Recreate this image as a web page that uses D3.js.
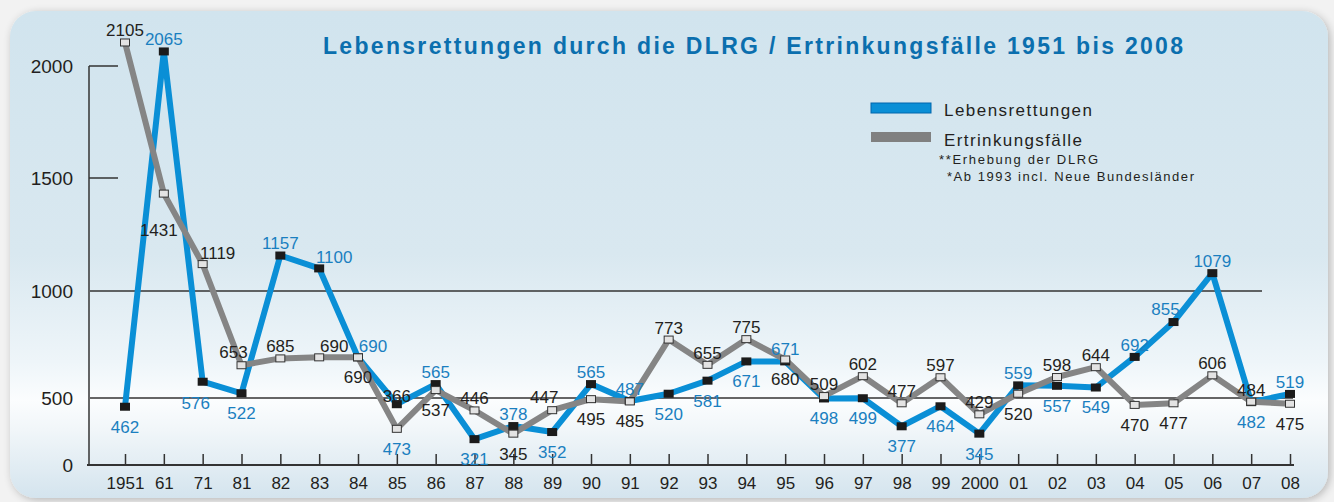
<!DOCTYPE html>
<html><head><meta charset="utf-8">
<script src="https://cdn.jsdelivr.net/npm/d3@7"></script>
<style>
html,body{margin:0;padding:0;background:#f1f1f1;}
svg{display:block;font-family:"Liberation Sans",Arial,Helvetica,sans-serif;}
</style>
</head><body>
<svg id="c" width="1334" height="502"></svg>
<script>
// ---------- DATA ----------
const categories = ["1951","61","71","81","82","83","84","85","86","87","88","89","90","91","92","93","94","95","96","97","98","99","2000","01","02","03","04","05","06","07","08"];
const lebensrettungen = [462,2065,576,522,1157,1100,690,473,565,321,378,352,565,487,520,581,671,671,498,499,377,464,345,559,557,549,692,855,1079,482,519];
const ertrinkungsfaelle = [2105,1431,1119,653,685,690,690,366,537,446,345,447,495,485,773,655,775,680,509,602,477,597,429,520,598,644,470,477,606,484,475];
const yTickValues = [0,500,1000,1500,2000];
const seriesNames = ["Lebensrettungen","Ertrinkungsfälle"];
const footnotes = ["**Erhebung der DLRG","*Ab 1993 incl. Neue Bundesländer"];
const titleText = "Lebensrettungen durch die DLRG / Ertrinkungsfälle 1951 bis 2008";
// label placement codes (t = top, b = bottom, tl/tr/bl = diagonal, tf/bf/bff = farther away)
const lebensLabelPos = ["b","t","bl","b","t","tr","tr","bff","t","b","t","b","t","t","b","b","b","t","b","b","b","b","b","t","b","b","t","tl","t","b","t"];
const ertrLabelPos   = ["t","bf","tr","tl","t","tr","b","tf","b","t","b","tl","b","b","t","t","t","b","t","t","t","t","t","b","t","t","b","b","t","t","b"];

// ---------- LAYOUT ----------
const svg = d3.select("#c");
const W = 1334, H = 502;
const BLUE = "#0a8fd6", GRAY = "#858585", LBLUE = "#1a7fc0", TXT = "#231f20";

const defs = svg.append("defs");
const grad = defs.append("linearGradient").attr("id","bg").attr("x1",0).attr("y1",0).attr("x2",0).attr("y2",1);
[[0,"#d1e4ee"],[0.5,"#d9e8f0"],[0.72,"#eef5f9"],[0.8,"#fbfdfe"],[0.86,"#f1f6f9"],[1,"#d4e4ee"]]
  .forEach(([o,c])=>grad.append("stop").attr("offset",o).attr("stop-color",c));
const sh = defs.append("filter").attr("id","sh").attr("x",-0.05).attr("y",-0.05).attr("width",1.1).attr("height",1.1);
sh.append("feGaussianBlur").attr("in","SourceAlpha").attr("stdDeviation",4);
sh.append("feOffset").attr("dx",2).attr("dy",2).attr("result","b");
sh.append("feComponentTransfer").append("feFuncA").attr("type","linear").attr("slope",0.25);
const m = sh.append("feMerge"); m.append("feMergeNode"); m.append("feMergeNode").attr("in","SourceGraphic");

svg.append("rect").attr("width",W).attr("height",H).attr("fill","#f2f2f2");
svg.append("rect").attr("x",10).attr("y",11).attr("width",1318).attr("height",487)
  .attr("rx",26).attr("ry",26).attr("fill","url(#bg)").attr("filter","url(#sh)");

// scales
const x = d3.scalePoint().domain(categories).range([125,1290]);
const y = d3.scaleLinear().domain([0,300,500,1000,1500,2000]).range([465,444,398,291,178,66]);

// title
svg.append("text").attr("x",753).attr("y",54).attr("text-anchor","middle")
  .attr("font-size",23).attr("font-weight","bold").attr("fill","#0b6fae")
  .attr("textLength",860).attr("lengthAdjust","spacing").text(titleText);

// gridlines
svg.append("line").attr("x1",90).attr("x2",1262).attr("y1",y(1000)).attr("y2",y(1000)).attr("stroke","#333").attr("stroke-width",1.5);
svg.append("line").attr("x1",90).attr("x2",1293).attr("y1",y(500)).attr("y2",y(500)).attr("stroke","#333").attr("stroke-width",1.5);
// y axis
svg.append("line").attr("x1",89).attr("x2",89).attr("y1",y(2000)).attr("y2",y(0)).attr("stroke","#333").attr("stroke-width",1.5);
[1500,2000].forEach(v=>svg.append("line").attr("x1",89).attr("x2",118).attr("y1",y(v)).attr("y2",y(v)).attr("stroke","#333").attr("stroke-width",1.5));
const yAxis = svg.append("g").attr("transform","translate(89,0)")
  .call(d3.axisLeft(y).tickValues(yTickValues).tickSize(0).tickPadding(16).tickFormat(d3.format("d")));
yAxis.select(".domain").remove();
yAxis.selectAll("text").attr("font-size",19).attr("fill",TXT).attr("font-family","Liberation Sans, Arial, sans-serif");

// x axis
const xAxis = svg.append("g").attr("transform",`translate(0,${y(0)})`)
  .call(d3.axisBottom(x).tickSize(-11).tickSizeOuter(0).tickPadding(12));
xAxis.select(".domain").remove();
xAxis.selectAll("line").attr("stroke","#333").attr("stroke-width",1.5);
xAxis.selectAll("text").attr("font-size",17).attr("fill",TXT).attr("font-family","Liberation Sans, Arial, sans-serif");
svg.append("line").attr("x1",87).attr("x2",1294).attr("y1",y(0)).attr("y2",y(0)).attr("stroke","#333").attr("stroke-width",2);

// lines
const line = d3.line().x((d,i)=>x(categories[i])).y(d=>y(d)).curve(d3.curveLinear);
svg.append("path").datum(lebensrettungen).attr("d",line).attr("fill","none")
  .attr("stroke",BLUE).attr("stroke-width",6).attr("stroke-linejoin","round");
svg.append("path").datum(ertrinkungsfaelle).attr("d",line).attr("fill","none")
  .attr("stroke",GRAY).attr("stroke-width",6).attr("stroke-linejoin","round");

// markers
svg.append("g").selectAll("rect").data(lebensrettungen).join("rect")
  .attr("x",(d,i)=>x(categories[i])-5).attr("y",d=>y(d)-4).attr("width",10).attr("height",8)
  .attr("fill","#1b1b1b");
svg.append("g").selectAll("rect").data(ertrinkungsfaelle).join("rect")
  .attr("x",(d,i)=>x(categories[i])-4.5).attr("y",d=>y(d)-3.5).attr("width",9).attr("height",7)
  .attr("fill","#e3e3e3").attr("stroke","#333").attr("stroke-width",1);

// labels
const off = {t:[0,-12], b:[0,20], tl:[-8,-13], tr:[15,-11], bl:[-7,21], bf:[-5,36], tf:[0,-33], bff:[0,45]};
function labels(vals, codes, color){
  svg.append("g").selectAll("text").data(vals).join("text")
    .attr("x",(d,i)=>x(categories[i])+off[codes[i]][0])
    .attr("y",(d,i)=>y(d)+off[codes[i]][1])
    .attr("dy","0.35em").attr("text-anchor","middle")
    .attr("font-size",17).attr("fill",color).text(d=>d);
}
labels(lebensrettungen, lebensLabelPos, LBLUE);
labels(ertrinkungsfaelle, ertrLabelPos, TXT);

// legend
svg.append("rect").attr("x",871).attr("y",103).attr("width",60).attr("height",10)
  .attr("fill",BLUE).attr("stroke","#0066ad").attr("stroke-width",1);
svg.append("rect").attr("x",871).attr("y",132).attr("width",60).attr("height",10).attr("fill","#808080");
svg.append("text").attr("x",944).attr("y",116).attr("font-size",17).attr("fill",TXT)
  .attr("textLength",148).attr("lengthAdjust","spacing").text(seriesNames[0]);
svg.append("text").attr("x",944).attr("y",146).attr("font-size",17).attr("fill",TXT)
  .attr("textLength",138).attr("lengthAdjust","spacing").text(seriesNames[1]);
svg.append("text").attr("x",939).attr("y",164).attr("font-size",13).attr("fill",TXT)
  .attr("textLength",159).attr("lengthAdjust","spacing").text(footnotes[0]);
svg.append("text").attr("x",947).attr("y",181).attr("font-size",13).attr("fill",TXT)
  .attr("textLength",247).attr("lengthAdjust","spacing").text(footnotes[1]);
</script>
</body></html>
